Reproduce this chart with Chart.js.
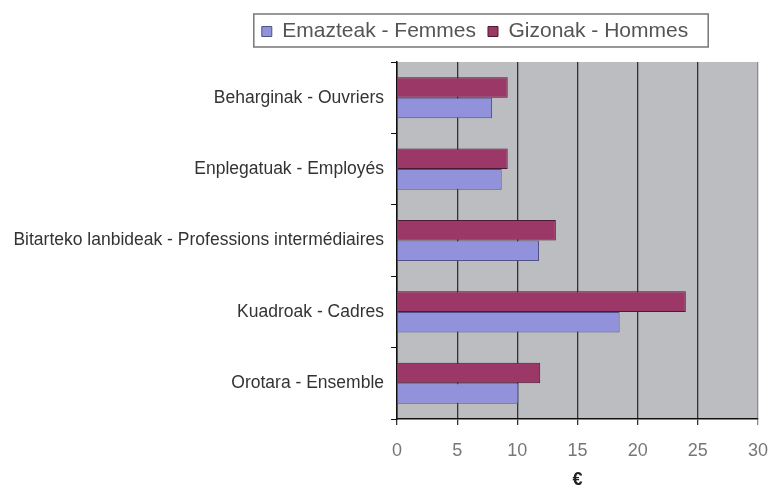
<!DOCTYPE html>
<html>
<head>
<meta charset="utf-8">
<script src="https://cdn.jsdelivr.net/npm/chart.js@4.4.1/dist/chart.umd.min.js"></script>
<style>
  html, body { margin: 0; padding: 0; background: #fff; }
  #wrap { width: 771px; height: 495px; }
</style>
</head>
<body>
<div id="wrap"><canvas id="salaryChart" width="771" height="495"></canvas></div>
<script>
// categories (top -> bottom)
const categories = [
    'Beharginak - Ouvriers',
    'Enplegatuak - Employés',
    'Bitarteko lanbideak - Professions intermédiaires',
    'Kuadroak - Cadres',
    'Orotara - Ensemble'
];

// values in €
const femmesValues = [7.9, 8.7, 11.8, 18.5, 10.1];
const hommesValues = [9.2, 9.2, 13.2, 24.0, 11.9];

const xTicks = [0, 5, 10, 15, 20, 25, 30];

const FONT = "'Liberation Sans', Arial, sans-serif";

// gray plot background, like excel
const plotBackground = {
    id: 'plotBackground',
    beforeDraw(chart) {
        const { ctx, chartArea: a } = chart;
        ctx.save();
        ctx.fillStyle = '#bbbdc0';
        ctx.fillRect(a.left, a.top, a.right - a.left, a.bottom - a.top);
        ctx.restore();
    }
};

// extra space under the legend, move it right, frame round it
const legendFrame = {
    id: 'legendFrame',
    beforeInit(chart) {
        const fit = chart.legend.fit;
        chart.legend.fit = function () {
            fit.call(this);
            this.height += 10;
        };
    },
    afterLayout(chart) {
        const lg = chart.legend;
        const shift = 475 - (lg.left + lg.right) / 2;
        lg.left += shift;
        lg.right += shift;
    },
    afterDraw(chart) {
        const boxes = chart.legend.legendHitBoxes;
        if (!boxes || !boxes.length) return;
        const first = boxes[0], last = boxes[boxes.length - 1];
        const ctx = chart.ctx;
        const l = first.left - 8, t = first.top - 7;
        const r = last.left + last.width + 20, b = first.top + first.height + 5;
        ctx.save();
        ctx.strokeStyle = '#777';
        ctx.lineWidth = 1.5;
        ctx.strokeRect(l, t, r - l, b - t);
        ctx.restore();
    }
};

new Chart(document.getElementById('salaryChart'), {
    type: 'bar',
    data: {
        labels: categories,
        datasets: [
            { label: 'Gizonak - Hommes', data: hommesValues, backgroundColor: '#9b3868', borderColor: '#4a1a32', borderWidth: 1 },
            { label: 'Emazteak - Femmes', data: femmesValues, backgroundColor: '#9292dc', borderColor: '#50508a', borderWidth: 1 }
        ]
    },
    options: {
        indexAxis: 'y',
        responsive: false,
        animation: false,
        categoryPercentage: 0.575,
        barPercentage: 1.0,
        layout: { padding: { top: 9, right: 13, left: 0, bottom: 0 } },
        plugins: {
            tooltip: { enabled: false },
            legend: {
                position: 'top',
                reverse: true,
                labels: { boxWidth: 10, boxHeight: 10, padding: 12, color: '#555', font: { family: FONT, size: 21 } }
            }
        },
        scales: {
            x: {
                min: 0, max: 30,
                afterBuildTicks: s => { s.ticks = xTicks.map(v => ({ value: v })); },
                afterFit: s => { s.height = 76; s.paddingRight = 0; s.paddingLeft = 0; },
                grid: {
                    color: ctx => (ctx.tick && ctx.tick.value === 30) ? '#8c8c8c' : '#333',
                    lineWidth: 1.3,
                    tickLength: 6
                },
                border: { display: true, color: '#111', width: 1.5 },
                ticks: { color: '#777', padding: 15, font: { family: FONT, size: 18 } },
                title: { display: true, text: '€', color: '#222', padding: { top: 4, bottom: 4 }, font: { family: FONT, size: 18, weight: 'bold' } }
            },
            y: {
                afterFit: s => { s.width = 397; },
                grid: { offset: true, drawOnChartArea: false, tickLength: 6, color: '#111' },
                border: { display: true, color: '#111', width: 1.5 },
                ticks: { color: '#333', padding: 7, font: { family: FONT, size: 17.5 } }
            }
        }
    },
    plugins: [plotBackground, legendFrame]
});
</script>
</body>
</html>
